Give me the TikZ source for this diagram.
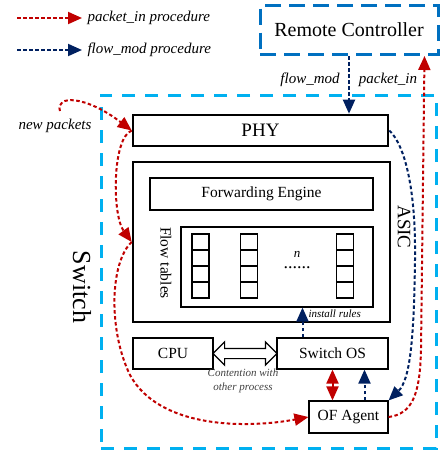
\documentclass[tikz,border=0pt]{standalone}
\usepackage{fontspec}
\setmainfont{Liberation Serif}
\usetikzlibrary{arrows.meta,shapes.arrows,calc}

\definecolor{pktred}{HTML}{C00000}
\definecolor{flowblue}{HTML}{002060}
\definecolor{swblue}{HTML}{00B0F0}
\definecolor{ctrlblue}{HTML}{0070C0}

\begin{document}
\begin{tikzpicture}[x=1pt,y=-1pt]

  \useasboundingbox (0,0) rectangle (440,456);

  % node styles
  \tikzstyle{Box}=[
  draw,
  shape=rectangle,
  inner sep=0pt,
  line width=1.2pt,
  font=\fontsize{15.5}{17}\selectfont]

  \tikzstyle{Thick}=[Box,line width=2.6pt]
  \tikzstyle{Dash}=[draw,shape=rectangle,inner sep=0pt,line width=3pt]
  \tikzstyle{Cell}=[draw,shape=rectangle,inner sep=0pt,line width=1.2pt,
  minimum width=17pt,minimum height=16pt]
  \tikzstyle{Label}=[font=\itshape\fontsize{15}{17}\selectfont]
  \tikzstyle{Small}=[font=\itshape\fontsize{11}{13.5}\selectfont]

  % arrow styles
  \tikzstyle{PktIn}=[pktred,line width=2pt,dash pattern=on 3.5pt off 2.5pt,
  -{Triangle[length=14pt,width=12pt]}]
  \tikzstyle{FlowMod}=[flowblue,line width=2pt,dash pattern=on 3.5pt off 2.5pt,
  -{Triangle[length=14pt,width=12pt]}]

  % legend
  \coordinate (r0) at (17,18);
  \coordinate (b0) at (17,50);
  \node[Label,anchor=west] (LR) at (84,18) {packet\_in procedure};
  \node[Label,anchor=west] (LB) at (84,50) {flow\_mod procedure};
  \draw[PktIn,shorten >=2pt] (r0) -- (LR.west);
  \draw[FlowMod,shorten >=2pt] (b0) -- (LB.west);

  % controller and switch
  \node[Dash,draw=ctrlblue,dash pattern=on 16pt off 8pt,
  minimum width=178pt,minimum height=49pt,
  font=\fontsize{20}{22}\selectfont] (RC) at (349,30) {Remote Controller};
  \node[Dash,draw=swblue,dash pattern=on 13pt off 10pt,
  minimum width=335pt,minimum height=353pt] (SW) at (268.5,271.5) {};
  \node[rotate=-90,font=\fontsize{26}{28}\selectfont] (SWL) at (82,287) {Switch};

  \node[Thick,minimum width=255pt,minimum height=31pt,
  font=\fontsize{19}{21}\selectfont] (PHY) at (260.5,130.5) {PHY};
  \node[Thick,minimum width=257pt,minimum height=160pt] (ASIC) at (261.5,242) {};
  \node[rotate=-90,font=\fontsize{19}{21}\selectfont] (ASICL) at (404,227) {ASIC};
  \node[Box,minimum width=223pt,minimum height=32pt] (FE) at (261.5,194) {Forwarding Engine};
  \node[Box,minimum width=192pt,minimum height=80pt] (FT) at (277,267) {};
  \node[rotate=-90,font=\fontsize{15.5}{17}\selectfont] (FTL) at (166,263) {Flow tables};

  \foreach \c/\x in {1/200.5,2/249,3/345}
    \foreach \r in {1,...,4}
      \node[Cell] (c\c\r) at (\x,226+16*\r) {};

  \node[align=center,inner sep=0pt,font=\fontsize{13}{11}\selectfont] (n) at (297,260)
  {\textit{n}\\{\fontsize{18}{11}\selectfont......}};

  \node[Box,minimum width=80pt,minimum height=31pt] (CPU) at (173,353.5) {CPU};
  \node[Box,minimum width=111pt,minimum height=31pt] (SOS) at (332.5,353.5) {Switch OS};
  \node[Box,minimum width=79pt,minimum height=32pt] (OFA) at (348.5,417) {OF Agent};

  \node[double arrow,draw,line width=1.2pt,inner sep=4.5pt,
  minimum height=64pt,double arrow head extend=6.5pt,
  double arrow head indent=0pt] (CON) at ($(CPU.east)!.5!(SOS.west)$) {};
  \node[Small,text=black!75,align=center] (CNT) at (243,381) {Contention with\\other process};
  \node[Small,anchor=west] (INS) at (305,314) {install rules};

  \node[Label] (FM) at (310,80) {flow\_mod};
  \node[Label] (PI) at (388,80) {packet\_in};
  \node[Label] (NP) at (55,126) {new packets};

  % flow_mod procedure
  \draw[FlowMod] (RC.south) -- (RC.south |- PHY.north);
  \draw[FlowMod] (PHY.east) .. controls (405,145) and (416,190) .. (415,260)
  .. controls (414,340) and (410,380) .. (OFA.north east);
  \draw[FlowMod] ([xshift=16pt]OFA.north) -- ([xshift=16pt]OFA.north |- SOS.south);
  \draw[FlowMod] ([xshift=-30pt]SOS.north) -- ([xshift=-30pt]SOS.north |- FT.south);

  % packet_in procedure
  \coordinate (np) at (60,111);
  \coordinate (rcin) at ([xshift=-15pt]RC.south east);
  \draw[PktIn] (np) .. controls (55,95) and (85,95) .. (PHY.west);
  \draw[PktIn] (PHY.west) .. controls (112,138) and (112,215) .. (ASIC.west);
  \draw[PktIn] (ASIC.west) .. controls (110,262) and (108,330) .. (130,375)
  .. controls (160,430) and (250,428) .. (OFA.west);
  \draw[PktIn] (OFA.east) .. controls (412,414) and (420,395) .. (421,350) -- (rcin);
  \draw[PktIn,{Triangle[length=14pt,width=12pt]}-{Triangle[length=14pt,width=12pt]}]
  (SOS.south) -- (SOS.south |- OFA.north);

\end{tikzpicture}
\end{document}
